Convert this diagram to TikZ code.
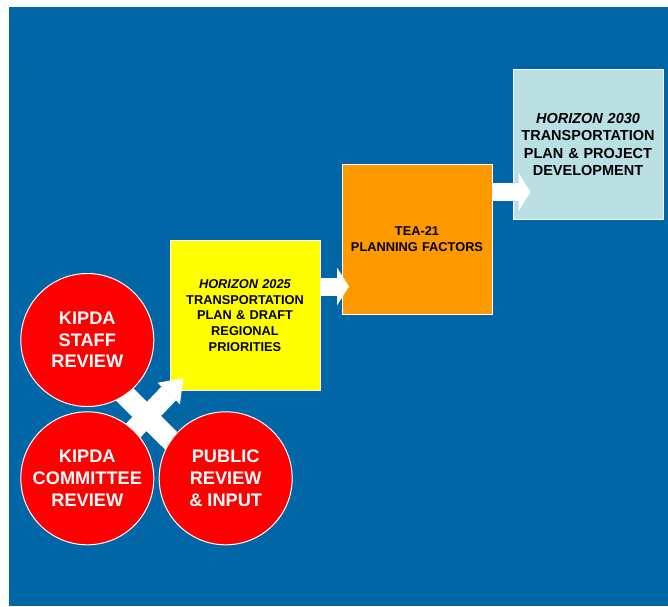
\documentclass[tikz,border=0pt]{standalone}
\usepackage{fontspec}
\setmainfont{Liberation Sans}
\usetikzlibrary{arrows.meta,positioning,calc}

\definecolor{bgblue}{RGB}{0,102,166}
\definecolor{kred}{RGB}{255,0,0}
\definecolor{kyellow}{RGB}{255,255,0}
\definecolor{korange}{RGB}{255,153,0}
\definecolor{klightblue}{RGB}{187,224,227}

\pgfdeclarelayer{front}
\pgfsetlayers{main,front}

\begin{document}
\begin{tikzpicture}[x=1pt, y=-1pt]
  \tikzstyle{box}=[rectangle, draw=white, line width=1pt, minimum size=150pt, inner sep=0pt, text width=148pt, align=center]
  \tikzstyle{review}=[circle, draw=white, line width=1pt, fill=kred, text=white, minimum size=133pt, inner sep=0pt, align=center, font=\fontsize{18.2}{21.7}\selectfont\bfseries]
  \tikzstyle{flow}=[draw=white, line width=18pt, -{Triangle[length=12pt,width=38pt,line width=0pt]}]
  \tikzstyle{band}=[draw=white, line width=21pt]

  \useasboundingbox (0,0) rectangle (668,606);
  \fill[bgblue] (9,7) rectangle (668,606);
  \node[font=\tiny, inner sep=0pt] (dot) at (19,68) {.};

  % Caixas
  \node[box, fill=kyellow, font=\fontsize{12.8}{15.6}\selectfont\bfseries] (h2025) at (245,315.5)
    {\textit{HORIZON 2025}\\TRANSPORTATION\\PLAN \& DRAFT\\REGIONAL\\PRIORITIES};
  \node[box, fill=korange, font=\fontsize{12.8}{15.2}\selectfont\bfseries] (tea21) at (417,239)
    {TEA-21\\PLANNING FACTORS};
  \node[box, fill=klightblue, font=\fontsize{14.5}{17.5}\selectfont\bfseries] (h2030) at (588,144.3)
    {\textit{HORIZON 2030}\\TRANSPORTATION\\PLAN \& PROJECT\\DEVELOPMENT};

  % Circulos
  \begin{pgfonlayer}{front}
  \node[review] (staff) at (87.3,340) {KIPDA\\STAFF\\REVIEW};
  \node[review] (committee) at (87.3,478.3) {KIPDA\\COMMITTEE\\REVIEW};
  \node[review] (public) at (225.7,478.3) {PUBLIC\\REVIEW\\\& INPUT};
  \end{pgfonlayer}

  % Setas
  \coordinate (tip) at (183.3,378.3);
  \draw[band] ($(staff.center)+(0,17)$) -- ($(public.center)+(0,17)$);
  \draw[band, line width=20pt, -{Triangle[length=21pt,width=31pt,line width=0pt]}] (committee.center) -- (tip);
  \draw[flow, shorten >=-7.5pt] (h2025.east |- 0,286.5) -- (tea21.west |- 0,286.5);
  \draw[flow, shorten >=-18pt] (tea21.east |- 0,192) -- (h2030.west |- 0,192);
\end{tikzpicture}
\end{document}
